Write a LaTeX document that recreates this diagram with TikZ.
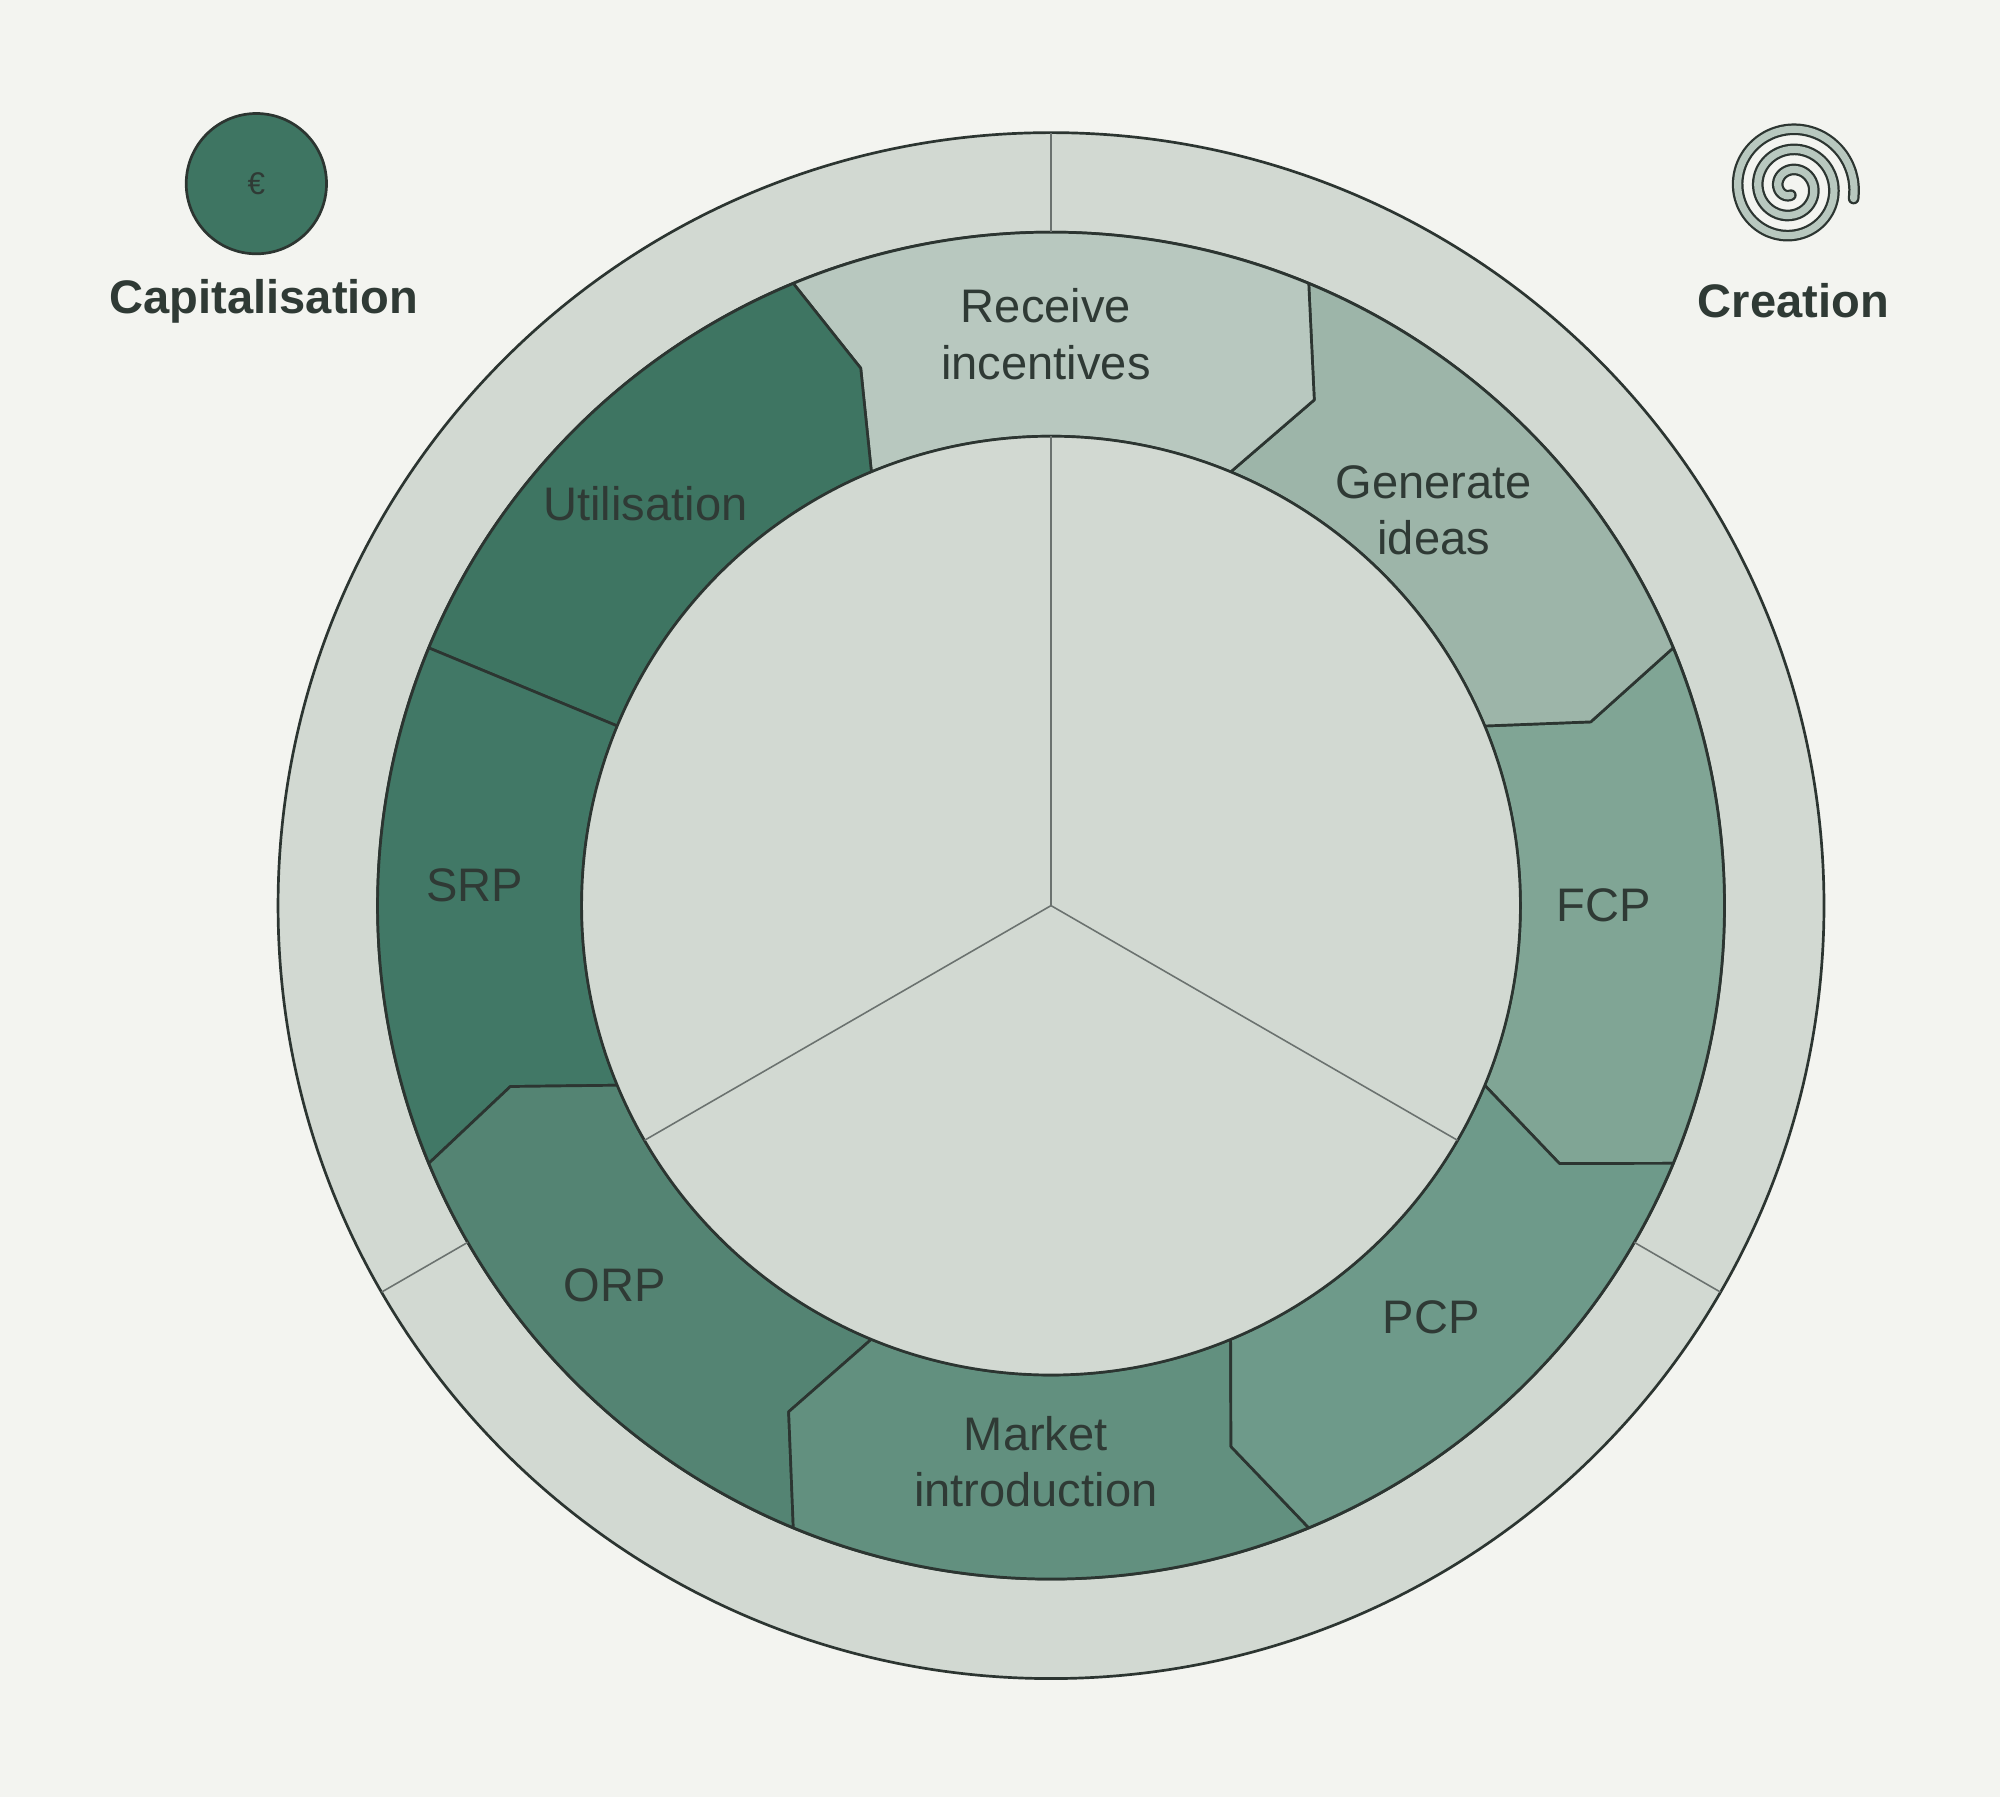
\documentclass[tikz,border=0pt]{standalone}
\usepackage{fontspec}
\setmainfont{Liberation Sans}
\usetikzlibrary{calc}
\definecolor{bgc}{HTML}{F3F4F0}
\definecolor{ringc}{HTML}{D2D9D2}
\definecolor{edgec}{HTML}{2C3531}
\definecolor{txtc}{HTML}{2F3A35}
\definecolor{cFCP}{HTML}{80A595}
\definecolor{cGEN}{HTML}{9DB5A9}
\definecolor{cREC}{HTML}{B8C8BF}
\definecolor{cUTI}{HTML}{3E7562}
\definecolor{cSRP}{HTML}{417866}
\definecolor{cORP}{HTML}{548473}
\definecolor{cMKT}{HTML}{62907F}
\definecolor{cPCP}{HTML}{6E9A8A}
\tikzset{
  edge/.style={draw=edgec, line width=0.6pt},
  lbl/.style={text=txtc, font=\fontsize{10.5}{12.5}\selectfont, align=center, inner sep=0pt},
  key/.style={text=txtc, font=\bfseries\fontsize{10.5}{12.5}\selectfont, inner sep=0pt}
}
\begin{document}
\begin{tikzpicture}[line join=round]
    \fill[bgc] (-8.24,-6.99) rectangle (7.44,7.10);
    \useasboundingbox (-8.24,-6.99) rectangle (7.44,7.10);

    % outer ring and inner disc
    \filldraw[fill=ringc, edge] (0,0) circle (6.06);
    \draw[edge] (0,0) circle (5.28);

    % segments: from/mid, to/mid, colour
    \foreach \a/\am/\b/\bm/\col in {-22.5/-26.9/22.5/18.8/cFCP,
        22.5/18.8/67.5/62.5/cGEN, 67.5/62.5/112.5/109.5/cREC,
        112.5/109.5/157.5/157.5/cUTI, 157.5/157.5/202.5/198.5/cSRP,
        202.5/198.5/247.5/242.6/cORP, 247.5/242.6/292.5/288.4/cMKT,
        292.5/288.4/337.5/333.1/cPCP}
    {
      \filldraw[fill=\col, edge] (\a:5.28) arc[start angle=\a, end angle=\b, radius=5.28]
        -- (\bm:4.47) -- (\b:3.68) arc[start angle=\b, end angle=\a, radius=3.68]
        -- (\am:4.47) -- cycle;
    }
    \filldraw[fill=ringc, edge] (0,0) circle (3.68);

    % dividers
    \foreach \t in {90,-30,210}
    {
      \draw[draw=edgec!70, line width=0.35pt] (0,0) -- (\t:3.68);
      \draw[draw=edgec!70, line width=0.35pt] (\t:5.28) -- (\t:6.06);
    }

    % labels
    \node[lbl] (rec) at (-0.04,4.48) {Receive\\incentives};
    \node[lbl] (gen) at (3.0,3.1) {Generate\\ideas};
    \node[lbl] (fcp) at (4.33,0) {FCP};
    \node[lbl] (pcp) at (2.98,-3.23) {PCP};
    \node[lbl] (mkt) at (-0.12,-4.36) {Market\\introduction};
    \node[lbl] (orp) at (-3.42,-2.98) {ORP};
    \node[lbl] (srp) at (-4.52,0.16) {SRP};
    \node[lbl] (uti) at (-3.18,3.15) {Utilisation};

    % capitalisation key
    \filldraw[fill=cUTI, edge] (-6.23,5.66) circle (0.55);
    \node[text=txtc, font=\fontsize{7}{8}\selectfont] (eur) at (-6.23,5.66) {€};
    \node[key] (cap) at (-6.17,4.74) {Capitalisation};

    % creation key
    \draw[edgec, line width=2.6pt, line cap=round]
      plot[domain=0:1000, samples=120, smooth] ({5.80+(0.06+0.44*\x/1000)*cos(-90-\x)},{5.63+(0.06+0.44*\x/1000)*sin(-90-\x)});
    \draw[cREC, line width=1.6pt, line cap=round]
      plot[domain=0:1000, samples=120, smooth] ({5.80+(0.06+0.44*\x/1000)*cos(-90-\x)},{5.63+(0.06+0.44*\x/1000)*sin(-90-\x)});
    \node[key] (cre) at (5.82,4.74) {Creation};
\end{tikzpicture}
\end{document}
